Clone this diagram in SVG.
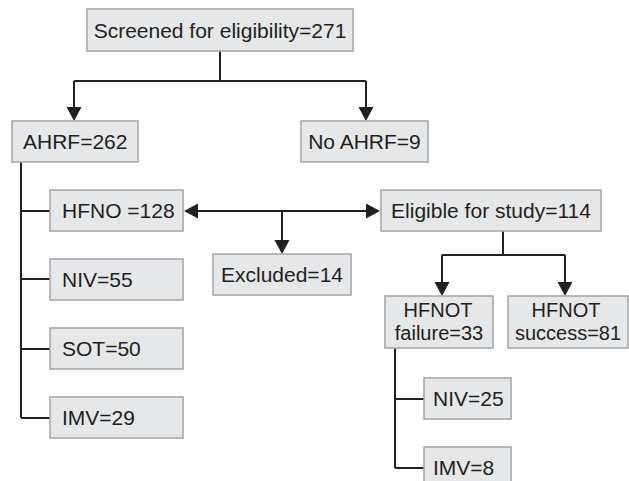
<svg xmlns="http://www.w3.org/2000/svg" width="629" height="481" viewBox="0 0 629 481">
<style>
.box{fill:#e6e7e8;stroke:#a7a9ac;stroke-width:1.6}
.t{font-family:"Liberation Sans",Arial,sans-serif;font-size:21px;fill:#231f20}
.s{font-size:20px}
.c{text-anchor:middle}
.ln{fill:none;stroke:#231f20;stroke-width:2}
.ar{marker-end:url(#ah)}
</style>
<defs>
<marker id="ah" markerUnits="userSpaceOnUse" markerWidth="16" markerHeight="16" refX="11" refY="7.5" orient="auto-start-reverse">
<path d="M0,0 L14,7.5 L0,15 z" fill="#231f20"/>
</marker>
</defs>
<g id="connectors">
<path class="ln" d="M220,51 V81 M74,81 H366"/>
<path class="ln ar" d="M74,81 V118"/>
<path class="ln ar" d="M366,81 V118"/>
<path class="ln" d="M21,162 V418 M21,211 H50 M21,279 H50 M21,349 H50 M21,418 H50"/>
<path class="ln" d="M187,211 H377" marker-start="url(#ah)" marker-end="url(#ah)"/>
<path class="ln ar" d="M282,211 V251"/>
<path class="ln" d="M503,231 V255 M442,255 H565"/>
<path class="ln ar" d="M442,255 V293"/>
<path class="ln ar" d="M565,255 V293"/>
<path class="ln" d="M395,348 V468 M395,399 H424 M395,468 H424"/>
</g>
<g id="screened"><rect class="box" x="87" y="9" width="266" height="42"/><text class="t c" x="220" y="37.5">Screened for eligibility=271</text></g>
<g id="ahrf"><rect class="box" x="12" y="121" width="126" height="41"/><text class="t" x="23" y="149">AHRF=262</text></g>
<g id="noahrf"><rect class="box" x="301" y="121" width="127" height="41"/><text class="t c" x="364.5" y="149">No AHRF=9</text></g>
<g id="hfno"><rect class="box" x="50" y="190" width="133" height="41"/><text class="t" x="62" y="218">HFNO =128</text></g>
<g id="niv55"><rect class="box" x="50" y="259" width="133" height="41"/><text class="t" x="62" y="287">NIV=55</text></g>
<g id="sot"><rect class="box" x="50" y="328" width="133" height="41"/><text class="t" x="62" y="356">SOT=50</text></g>
<g id="imv29"><rect class="box" x="50" y="397" width="133" height="41"/><text class="t" x="62" y="425">IMV=29</text></g>
<g id="excluded"><rect class="box" x="213" y="254" width="138" height="41"/><text class="t c" x="282" y="282">Excluded=14</text></g>
<g id="eligible"><rect class="box" x="381" y="190" width="220" height="41"/><text class="t c" x="491" y="218">Eligible for study=114</text></g>
<g id="failure"><rect class="box" x="385" y="296" width="108" height="52"/><text class="t s c" x="438" y="317">HFNOT</text><text class="t s c" x="439" y="340">failure=33</text></g>
<g id="success"><rect class="box" x="508" y="296" width="120" height="52"/><text class="t s c" x="566" y="317">HFNOT</text><text class="t s c" x="568" y="340">success=81</text></g>
<g id="niv25"><rect class="box" x="424" y="378" width="87" height="41"/><text class="t" x="433" y="406">NIV=25</text></g>
<g id="imv8"><rect class="box" x="424" y="447" width="87" height="41"/><text class="t" x="433" y="475">IMV=8</text></g>
</svg>
